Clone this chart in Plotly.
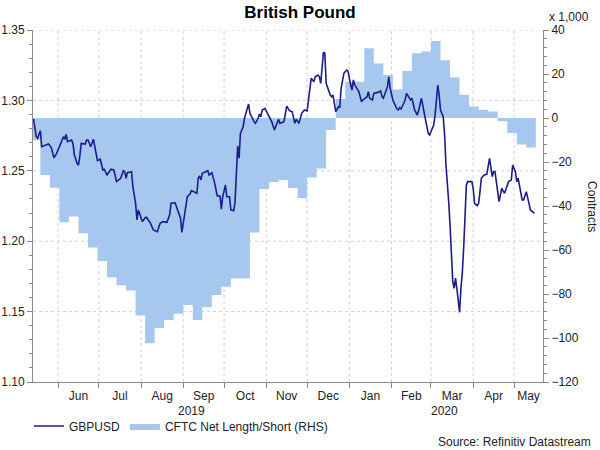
import plotly.graph_objects as go
import pandas as pd

# ---------------- data ----------------
title_text = "British Pound"

gbp_dates = [
    "2019-05-14", "2019-05-16", "2019-05-17", "2019-05-19", "2019-05-20", "2019-05-23", "2019-05-25",
    "2019-05-27", "2019-05-29", "2019-05-31", "2019-06-04", "2019-06-05", "2019-06-06", "2019-06-07",
    "2019-06-08", "2019-06-11", "2019-06-12", "2019-06-13", "2019-06-15", "2019-06-16", "2019-06-17",
    "2019-06-18", "2019-06-21", "2019-06-22", "2019-06-23", "2019-06-25", "2019-06-27", "2019-06-29",
    "2019-06-30", "2019-07-02", "2019-07-04", "2019-07-05", "2019-07-07", "2019-07-10", "2019-07-12",
    "2019-07-14", "2019-07-17", "2019-07-19", "2019-07-20", "2019-07-21", "2019-07-22", "2019-07-25",
    "2019-07-26", "2019-07-28", "2019-07-29", "2019-07-30", "2019-07-31", "2019-08-02", "2019-08-04",
    "2019-08-05", "2019-08-08", "2019-08-10", "2019-08-13", "2019-08-15", "2019-08-17", "2019-08-20",
    "2019-08-22", "2019-08-23", "2019-08-26", "2019-08-28", "2019-08-30", "2019-08-31", "2019-09-02",
    "2019-09-04", "2019-09-06", "2019-09-07", "2019-09-11", "2019-09-12", "2019-09-13", "2019-09-14",
    "2019-09-15", "2019-09-18", "2019-09-19", "2019-09-20", "2019-09-22", "2019-09-24", "2019-09-26",
    "2019-09-28", "2019-09-29", "2019-09-30", "2019-10-02", "2019-10-03", "2019-10-05", "2019-10-06",
    "2019-10-08", "2019-10-09", "2019-10-10", "2019-10-11", "2019-10-12", "2019-10-13", "2019-10-15",
    "2019-10-16", "2019-10-19", "2019-10-20", "2019-10-23", "2019-10-24", "2019-10-26", "2019-10-27",
    "2019-10-28", "2019-10-29", "2019-10-31", "2019-11-03", "2019-11-05", "2019-11-07", "2019-11-09",
    "2019-11-10", "2019-11-11", "2019-11-14", "2019-11-16", "2019-11-18", "2019-11-20", "2019-11-22",
    "2019-11-23", "2019-11-25", "2019-11-27", "2019-11-28", "2019-11-29", "2019-12-01", "2019-12-02",
    "2019-12-03", "2019-12-04", "2019-12-06", "2019-12-07", "2019-12-09", "2019-12-10", "2019-12-11",
    "2019-12-13", "2019-12-14", "2019-12-15", "2019-12-18", "2019-12-19", "2019-12-20", "2019-12-22",
    "2019-12-24", "2019-12-25", "2019-12-26", "2019-12-28", "2019-12-30", "2019-12-31", "2020-01-02",
    "2020-01-03", "2020-01-04", "2020-01-05", "2020-01-08", "2020-01-10", "2020-01-11", "2020-01-14",
    "2020-01-15", "2020-01-16", "2020-01-18", "2020-01-19", "2020-01-22", "2020-01-24", "2020-01-25",
    "2020-01-26", "2020-01-29", "2020-01-30", "2020-01-31", "2020-02-02", "2020-02-05", "2020-02-06",
    "2020-02-07", "2020-02-08", "2020-02-11", "2020-02-12", "2020-02-15", "2020-02-16", "2020-02-18",
    "2020-02-20", "2020-02-21", "2020-02-23", "2020-02-26", "2020-02-27", "2020-02-28", "2020-02-29",
    "2020-03-03", "2020-03-04", "2020-03-05", "2020-03-06", "2020-03-07", "2020-03-08", "2020-03-10",
    "2020-03-11", "2020-03-12", "2020-03-13", "2020-03-14", "2020-03-15", "2020-03-16", "2020-03-17",
    "2020-03-18", "2020-03-19", "2020-03-20", "2020-03-22", "2020-03-23", "2020-03-24", "2020-03-25",
    "2020-03-26", "2020-03-27", "2020-03-28", "2020-03-31", "2020-04-01", "2020-04-02", "2020-04-04",
    "2020-04-05", "2020-04-06", "2020-04-07", "2020-04-09", "2020-04-11", "2020-04-13", "2020-04-14",
    "2020-04-15", "2020-04-16", "2020-04-17", "2020-04-20", "2020-04-22", "2020-04-24", "2020-04-27",
    "2020-04-29", "2020-04-30", "2020-05-02", "2020-05-03", "2020-05-04", "2020-05-07", "2020-05-08",
    "2020-05-10", "2020-05-12", "2020-05-13", "2020-05-16",
]
gbp_values = [
    1.2868, 1.2742, 1.2731, 1.2785, 1.2671, 1.2683, 1.2690,
    1.2667, 1.2593, 1.2624, 1.2719, 1.2742, 1.2724, 1.2759,
    1.2707, 1.2719, 1.2695, 1.2612, 1.2553, 1.2541, 1.2600,
    1.2695, 1.2690, 1.2719, 1.2719, 1.2671, 1.2724, 1.2612,
    1.2572, 1.2582, 1.2506, 1.2511, 1.2470, 1.2511, 1.2506,
    1.2423, 1.2447, 1.2501, 1.2494, 1.2447, 1.2487, 1.2494,
    1.2387, 1.2269, 1.2151, 1.2222, 1.2198, 1.2139, 1.2167,
    1.2170, 1.2127, 1.2080, 1.2068, 1.2127, 1.2139, 1.2134,
    1.2186, 1.2269, 1.2273, 1.2210, 1.2163, 1.2063, 1.2198,
    1.2316, 1.2335, 1.2359, 1.2340, 1.2447, 1.2463, 1.2435,
    1.2482, 1.2494, 1.2501, 1.2470, 1.2487, 1.2416, 1.2321,
    1.2321, 1.2227, 1.2316, 1.2399, 1.2316, 1.2316, 1.2222,
    1.2217, 1.2269, 1.2458, 1.2676, 1.2589, 1.2766, 1.2813,
    1.2873, 1.2974, 1.2908, 1.2849, 1.2837, 1.2873, 1.2903,
    1.2884, 1.2932, 1.2944, 1.2889, 1.2849, 1.2790, 1.2849,
    1.2866, 1.2837, 1.2849, 1.2960, 1.2927, 1.2920, 1.2837,
    1.2866, 1.2837, 1.2908, 1.2920, 1.2932, 1.2925, 1.3015,
    1.3109, 1.3157, 1.3133, 1.3168, 1.3180, 1.3168, 1.3121,
    1.3342, 1.3335, 1.3121, 1.3038, 1.3026, 1.3038, 1.2920,
    1.2955, 1.2948, 1.3086, 1.3192, 1.3216, 1.3209, 1.3109,
    1.3074, 1.3145, 1.3109, 1.3062, 1.2991, 1.3003, 1.3026,
    1.3062, 1.3015, 1.3003, 1.3050, 1.3057, 1.3067, 1.3026,
    1.3015, 1.3097, 1.3168, 1.3086, 1.3003, 1.2939, 1.2932,
    1.2948, 1.2939, 1.3003, 1.3050, 1.3003, 1.3015, 1.2932,
    1.2896, 1.2932, 1.3015, 1.2861, 1.2802, 1.2766, 1.2754,
    1.2825, 1.2896, 1.2991, 1.3109, 1.3038, 1.2932, 1.2884,
    1.2754, 1.2541, 1.2423, 1.2281, 1.2115, 1.1925, 1.1712,
    1.1665, 1.1737, 1.1665, 1.1495, 1.1665, 1.1772, 1.1950,
    1.2234, 1.2399, 1.2423, 1.2423, 1.2376, 1.2269, 1.2252,
    1.2269, 1.2352, 1.2447, 1.2470, 1.2475, 1.2589, 1.2518,
    1.2458, 1.2494, 1.2494, 1.2281, 1.2376, 1.2340, 1.2423,
    1.2435, 1.2541, 1.2494, 1.2423, 1.2447, 1.2293, 1.2293,
    1.2352, 1.2269, 1.2222, 1.2198,
]

# CFTC net positioning (thousands of contracts), weekly
cftc_dates = [
    "2019-05-12", "2019-05-19", "2019-05-26", "2019-06-02", "2019-06-09", "2019-06-16", "2019-06-23",
    "2019-06-30", "2019-07-07", "2019-07-14", "2019-07-21", "2019-07-28", "2019-08-04", "2019-08-11",
    "2019-08-18", "2019-08-25", "2019-09-01", "2019-09-08", "2019-09-15", "2019-09-22", "2019-09-29",
    "2019-10-06", "2019-10-13", "2019-10-20", "2019-10-27", "2019-11-03", "2019-11-10", "2019-11-17",
    "2019-11-24", "2019-12-01", "2019-12-08", "2019-12-15", "2019-12-22", "2019-12-29", "2020-01-05",
    "2020-01-12", "2020-01-19", "2020-01-26", "2020-02-02", "2020-02-09", "2020-02-16", "2020-02-23",
    "2020-03-01", "2020-03-08", "2020-03-15", "2020-03-22", "2020-03-29", "2020-04-05", "2020-04-12",
    "2020-04-19", "2020-04-26", "2020-05-03", "2020-05-10",
]
cftc_values = [
    -10.0, -25.9, -31.7, -47.4, -44.8, -52.4, -58.9,
    -65.0, -72.5, -76.0, -78.4, -89.8, -102.4, -95.4,
    -91.8, -89.0, -85.0, -91.8, -86.0, -80.5, -76.7,
    -72.9, -72.9, -52.1, -32.3, -29.1, -28.2, -31.8,
    -36.5, -27.0, -23.0, -5.5, 8.6, 16.5, 16.5,
    31.7, 24.8, 19.5, 13.0, 21.4, 29.4, 30.2,
    35.0, 26.2, 18.4, 10.6, 5.2, 3.8, 3.0,
    -1.5, -6.8, -12.0, -13.4,
]

month_starts = [
    "2019-06-01", "2019-07-01", "2019-08-01", "2019-09-01", "2019-10-01", "2019-11-01",
    "2019-12-01", "2020-01-01", "2020-02-01", "2020-03-01", "2020-04-01", "2020-05-01",
]
month_labels = ["Jun", "Jul", "Aug", "Sep", "Oct", "Nov", "Dec", "Jan", "Feb", "Mar", "Apr", "May"]
year_labels = ["2019", "2020"]
year_label_dates = ["2019-09-07", "2020-03-11"]

x_range = ["2019-05-13 15:00", "2020-05-22 07:00"]
left_range = [1.10, 1.35]
left_ticks = [1.10, 1.15, 1.20, 1.25, 1.30, 1.35]

# ---------------- styling ----------------
NAVY = "#1c1c8a"
FILL = "#a7c8ee"
GRID = "#d0d0d0"
AXIS = "#8a8a8a"
TXT = "#222222"
FONT = "Liberation Sans, Arial, sans-serif"

# step series end: last week extended one week
step_x = list(pd.to_datetime(cftc_dates)) + [pd.to_datetime(cftc_dates[-1]) + pd.Timedelta(days=7)]
step_y = cftc_values + [cftc_values[-1]]

# month label positions: centre of each visible month
ms = pd.to_datetime(month_starts)
rend = pd.to_datetime(x_range[1])
mids = []
for i, m in enumerate(ms):
    nxt = ms[i + 1] if i + 1 < len(ms) else rend
    nxt = min(nxt, rend)
    mids.append(m + (nxt - m) / 2)

fig = go.Figure()
fig.add_trace(go.Scatter(
    x=step_x, y=step_y, yaxis="y", mode="lines",
    line=dict(width=0, shape="hv", color=FILL),
    fill="tozeroy", fillcolor=FILL,
    name="CFTC Net Length/Short (RHS)", legendrank=2,
))
fig.add_trace(go.Scatter(
    x=pd.to_datetime(gbp_dates), y=gbp_values, yaxis="y2", mode="lines",
    line=dict(color=NAVY, width=1.6),
    name="GBPUSD", legendrank=1,
))

# dotted grid drawn beneath the traces
shapes = []
for m in ms:
    shapes.append(dict(type="line", xref="x", yref="y2", x0=m, x1=m,
                       y0=left_range[0], y1=left_range[1], layer="below",
                       line=dict(color=GRID, width=1, dash="dot")))
for v in left_ticks[1:]:
    shapes.append(dict(type="line", xref="x", yref="y2", x0=x_range[0], x1=x_range[1],
                       y0=v, y1=v, layer="below",
                       line=dict(color=GRID, width=1, dash="dot")))

fig.update_layout(
    width=600, height=450, autosize=False,
    margin=dict(l=33, r=57, t=30, b=68, autoexpand=False),
    paper_bgcolor="white", plot_bgcolor="white",
    font=dict(family=FONT, size=12, color=TXT),
    title=dict(text="<b>" + title_text + "</b>", x=0.5, xanchor="center",
               y=1 - 12 / 450, yanchor="middle", font=dict(size=17, color="#000000")),
    showlegend=True,
    legend=dict(orientation="h", x=-0.008, xanchor="left", y=-0.125, yanchor="middle",
                bgcolor="rgba(0,0,0,0)", font=dict(size=12, color=TXT)),
    xaxis=dict(
        type="date", range=x_range,
        tickmode="array", tickvals=mids, ticktext=month_labels,
        ticks="outside", ticklen=3, tickcolor="rgba(0,0,0,0)",
        showgrid=False, zeroline=False,
        showline=True, linecolor=AXIS, linewidth=1,
        minor=dict(tickmode="array", tickvals=list(ms), ticks="outside", ticklen=5,
                   tickcolor=AXIS, showgrid=False),
        tickfont=dict(size=12, color=TXT),
    ),
    yaxis=dict(
        side="right", range=[-120, 40], tick0=0, dtick=20,
        ticks="outside", ticklen=5, tickcolor=AXIS,
        minor=dict(dtick=4, ticks="outside", ticklen=3, tickcolor=AXIS, showgrid=False),
        showline=True, linecolor=AXIS, linewidth=1,
        showgrid=False, zeroline=False,
        tickfont=dict(size=12, color=TXT),
    ),
    yaxis2=dict(
        overlaying="y", side="left", range=left_range,
        tickmode="array", tickvals=left_ticks, tickformat=".2f",
        ticks="outside", ticklen=5, tickcolor=AXIS,
        minor=dict(dtick=0.01, tick0=1.10, ticks="outside", ticklen=3, tickcolor=AXIS, showgrid=False),
        showline=True, linecolor=AXIS, linewidth=1,
        showgrid=False, zeroline=False,
        tickfont=dict(size=12, color=TXT),
    ),
    shapes=shapes,
)

annotations = []
for lab, d in zip(year_labels, year_label_dates):
    annotations.append(dict(text=lab, x=d, xref="x", y=(382 - 411) / 352, yref="paper",
                            showarrow=False, xanchor="center", yanchor="middle",
                            font=dict(size=12, color=TXT)))
annotations.append(dict(text="x 1,000", x=(547 - 33) / 510, xref="paper", y=(382 - 17) / 352,
                        yref="paper", showarrow=False, xanchor="left", yanchor="middle",
                        font=dict(size=12, color=TXT)))
annotations.append(dict(text="Contracts", x=(592 - 33) / 510, xref="paper", y=0.5, yref="paper",
                        showarrow=False, xanchor="center", yanchor="middle", textangle=90,
                        font=dict(size=12, color=TXT)))
annotations.append(dict(text="Source: Refinitiv Datastream", x=(593 - 33) / 510, xref="paper",
                        y=(382 - 442) / 352, yref="paper", showarrow=False,
                        xanchor="right", yanchor="middle", font=dict(size=12, color=TXT)))
fig.update_layout(annotations=annotations)

fig.write_html("out.html", config={"displayModeBar": False},
               post_script="document.body.style.margin='0px';")
